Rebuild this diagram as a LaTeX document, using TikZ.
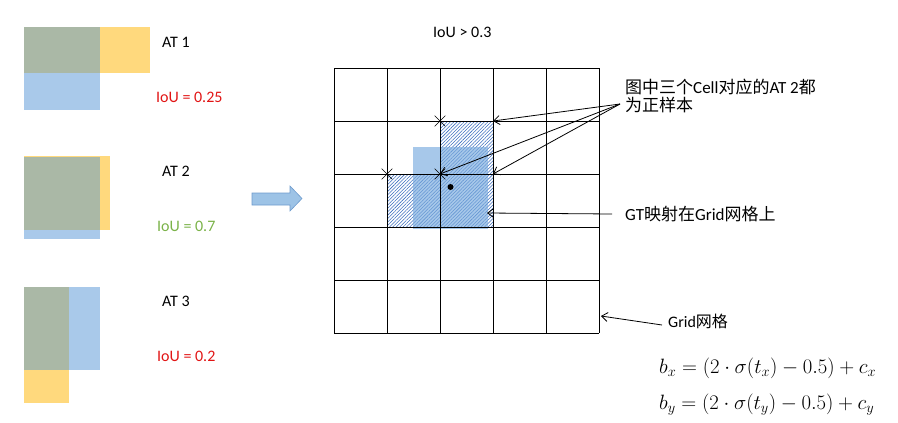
\documentclass[tikz,border=0pt]{standalone}
\usepackage{fontspec}
\setmainfont{Carlito}
\newfontfamily\cjk{Noto Sans CJK SC}
\usetikzlibrary{patterns.meta,shapes.misc,arrows.meta}
\definecolor{atblue}{RGB}{169,201,234}
\definecolor{atyellow}{RGB}{255,217,125}
\definecolor{atgreen}{RGB}{170,184,166}
\definecolor{ioured}{RGB}{225,20,20}
\definecolor{iougreen}{RGB}{122,178,72}
\definecolor{gtblue}{RGB}{120,170,222}
\definecolor{hatchblue}{RGB}{60,110,190}
\definecolor{arrowblue}{RGB}{157,195,230}
\definecolor{arrowedge}{RGB}{110,155,205}
\tikzset{
  txt/.style={font=\fontsize{16}{19}\selectfont, inner sep=0pt},
  hatch/.style={pattern={Lines[angle=45,distance=2.4pt,line width=0.55pt]}, pattern color=hatchblue},
  cell/.style={draw=black, line width=0.8pt},
  crossmark/.style={cross out, draw, minimum size=10pt, inner sep=0pt, line width=0.7pt},
  pointer/.style={->, line width=0.8pt},
}

\begin{document}
\begin{tikzpicture}[x=1pt, y=-1pt, >={Straight Barb[length=6pt,width=9pt]}]
        \useasboundingbox (0,0) rectangle (898,423);
        % anchor boxes
        \fill[atblue] (24,27) rectangle (100,110);
        \fill[atyellow] (24,27) rectangle (150,73);
        \fill[atgreen] (24,27) rectangle (100,73);
        \fill[atblue] (24,157) rectangle (100,239);
        \fill[atyellow] (24,156) rectangle (110,230);
        \fill[atgreen] (24,157) rectangle (100,230);
        \fill[atyellow] (24,287) rectangle (69,403);
        \fill[atblue] (24,287) rectangle (100,370);
        \fill[atgreen] (24,287) rectangle (69,370);
        \node[txt, anchor=west] (at1) at (162,42) {AT 1};
        \node[txt, anchor=west, text=ioured] (iou1) at (156,97) {IoU = 0.25};
        \node[txt, anchor=west] (at2) at (162,171) {AT 2};
        \node[txt, anchor=west, text=iougreen] (iou2) at (157,226) {IoU = 0.7};
        \node[txt, anchor=west] (at3) at (162,301) {AT 3};
        \node[txt, anchor=west, text=ioured] (iou3) at (157,356) {IoU = 0.2};
        % block arrow
        \filldraw[fill=arrowblue, draw=arrowedge, line width=0.6pt]
            (252,193) -- (290,193) -- (290,186) -- (302,198.5) -- (290,211) -- (290,205) -- (252,205) -- cycle;
        % grid
        \node[txt, anchor=west] (thr) at (433,32) {IoU > 0.3};
        \fill[hatch] (440,121) rectangle (493,174);
        \fill[hatch] (387,174) rectangle (493,227);
        \fill[gtblue, opacity=0.65] (413,147) rectangle (488,229);
        \foreach \i in {0,...,5} {
            \draw[cell] (334+53*\i,68) -- (334+53*\i,333);
            \draw[cell] (334,68+53*\i) -- (599,68+53*\i);
        }
        \node[crossmark] (x1) at (440,121) {};
        \node[crossmark] (x2) at (387,174) {};
        \node[crossmark] (x3) at (440,174) {};
        \fill (450.5,187) circle (3pt);
        \coordinate (c1) at (493,121);
        \coordinate (c3) at (493,174);
        \coordinate (gt) at (487,213);
        \coordinate (edge) at (601,316);
        % notes
        \node[txt, anchor=north west, align=left, font=\fontsize{17}{18}\selectfont] (note) at (625,79)
            {{\cjk 图中三个}Cell{\cjk 对应的}AT 2{\cjk 都}\\{\cjk 为正样本}};
        \coordinate (fan) at (620,104);
        \draw[pointer] (fan) -- (c1);
        \draw[pointer] (fan) -- (x3.center);
        \draw[pointer] (fan) -- (c3);
        \node[txt, anchor=west, font=\fontsize{17}{19}\selectfont] (gtnote) at (625,214) {GT{\cjk 映射在}Grid{\cjk 网格上}};
        \draw[pointer] ([xshift=-13pt]gtnote.west) -- (gt);
        \node[txt, anchor=west] (gridnote) at (668,321) {Grid{\cjk 网格}};
        \draw[pointer] ([xshift=-6pt,yshift=-4pt]gridnote.west) -- (edge);
        % formulas
        \node[txt, anchor=base west, font=\fontsize{20.8}{24}\selectfont] (bx) at (659,373) {$b_x = (2\cdot\sigma(t_x) - 0.5) + c_x$};
        \node[txt, anchor=base west, font=\fontsize{20.8}{24}\selectfont] (by) at (659,409) {$b_y = (2\cdot\sigma(t_y) - 0.5) + c_y$};
    \end{tikzpicture}
\end{document}
